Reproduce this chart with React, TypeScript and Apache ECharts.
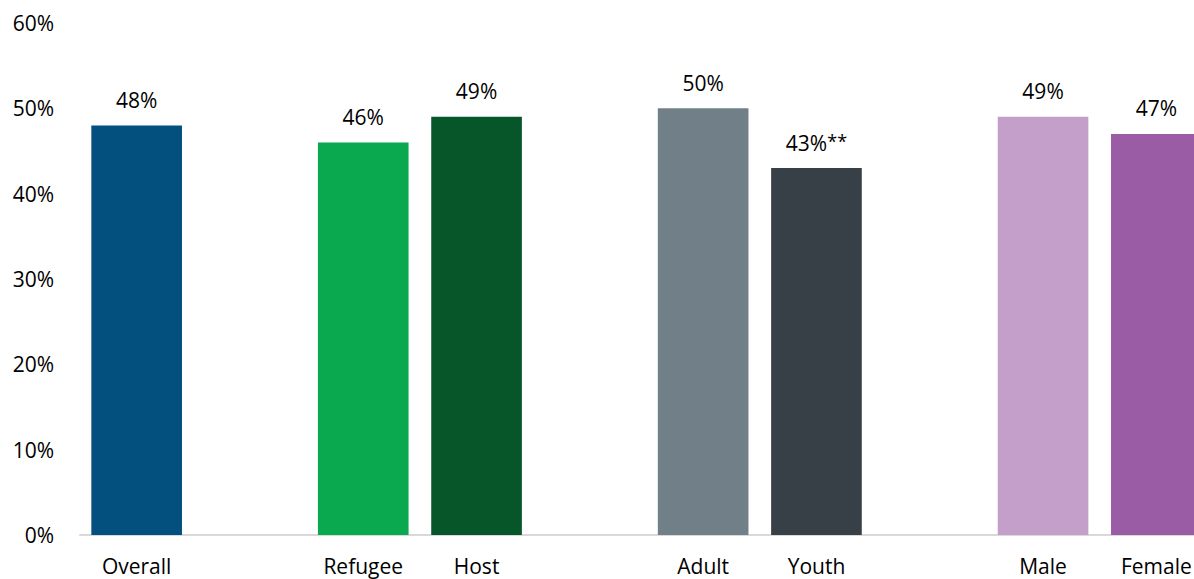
import React, { useEffect, useRef } from "react";
import * as echarts from "echarts";

// Categories (blank entries are spacers between groups)
const categories: string[] = ["Overall", "", "Refugee", "Host", "", "Adult", "Youth", "", "Male", "Female"];
// Percent values (null = spacer)
const values: (number | null)[] = [48, null, 46, 49, null, 50, 43, null, 49, 47];
// Significance markers appended to labels
const markers: string[] = ["", "", "", "", "", "", "**", "", "", ""];
// Y axis ticks
const yMin = 0;
const yMax = 60;
const yStep = 10;

const barColors: string[] = ["#034f7d", "#ffffff", "#0aa84f", "#06562a", "#ffffff", "#717f89", "#373f47", "#ffffff", "#c39fca", "#9a5ca5"];

const FONT = "'Open Sans', Lato, sans-serif";

export default function App() {
  const ref = useRef<HTMLDivElement>(null);
  useEffect(() => {
    if (!ref.current) return;
    const chart = echarts.init(ref.current, undefined, { renderer: "svg" });
    chart.setOption({
      animation: false,
      grid: { left: 80, right: 0, top: 23, bottom: 44, containLabel: false },
      xAxis: {
        type: "category",
        data: categories,
        axisLine: { show: true, lineStyle: { color: "#d9d9d9", width: 2 } },
        axisTick: { show: false },
        axisLabel: { color: "#000", fontSize: 21, fontFamily: FONT, margin: 20, interval: 0 },
      },
      yAxis: {
        type: "value",
        min: yMin,
        max: yMax,
        interval: yStep,
        axisLine: { show: false },
        axisTick: { show: false },
        splitLine: { show: false },
        axisLabel: { color: "#000", fontSize: 21, fontFamily: FONT, margin: 26, formatter: "{value}%" },
      },
      series: [
        {
          type: "bar",
          barCategoryGap: "20%",
          data: values.map((v, i) => ({
            value: v === null ? "-" : v,
            itemStyle: { color: barColors[i] },
            label: {
              show: v !== null,
              position: "top",
              distance: 15,
              formatter: () => (markers[i] ? `{a|${v}%}{b|${markers[i]}}` : `{a|${v}%}`),
              rich: {
                a: { fontSize: 21, fontFamily: FONT, color: "#000" },
                b: { fontSize: 18, fontFamily: FONT, color: "#000", verticalAlign: "top", padding: [0, 0, 3, 0] },
              },
            },
          })),
        },
      ],
    });
    return () => chart.dispose();
  }, []);
  return (
    <div style={{ position: "fixed", left: 0, top: 0, width: 1194, height: 579, background: "#fff", overflow: "hidden" }}>
      <div ref={ref} style={{ position: "absolute", left: 0, top: 0, width: 1213, height: 579 }} />
    </div>
  );
}
